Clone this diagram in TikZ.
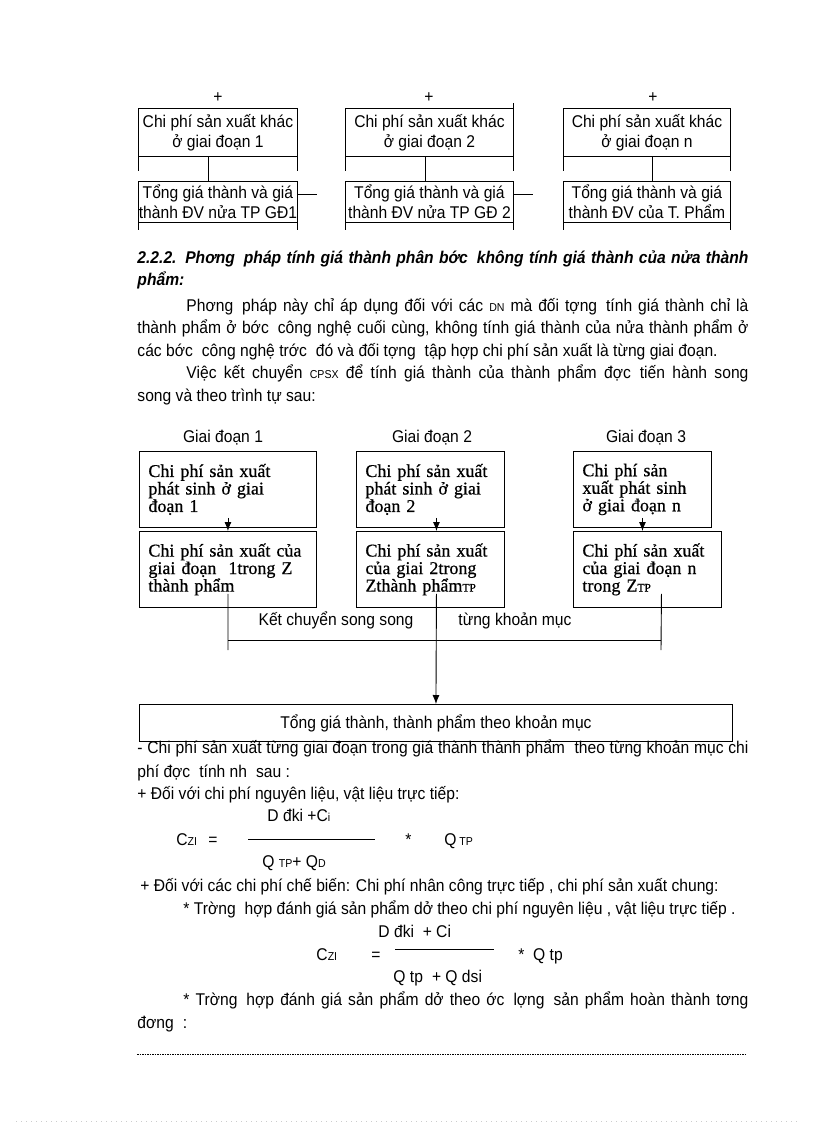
\documentclass[tikz,border=0pt]{standalone}
\usepackage{fontspec}
\setmainfont{Liberation Sans}[FakeStretch=0.92]
\newfontfamily\timesf{Liberation Serif}[FakeBold=0.6]
\usetikzlibrary{arrows.meta,positioning}

\newcommand{\gp}{\hspace*{9pt}}
\newcommand{\sm}[1]{{\fontsize{11.5}{11.5}\selectfont #1}}

\begin{document}
\begin{tikzpicture}[x=1pt, y=-1pt, line width=0.9pt,
    font=\fontsize{17}{20}\selectfont,
    every node/.style={inner sep=0pt},
    tip/.style={-{Latex[length=9pt,width=7pt]}},
    ln/.style={anchor=base west},
    cell/.style={minimum width=#1, minimum height=48pt, anchor=north west, align=center},
    tcell/.style={minimum width=#1, minimum height=41pt, anchor=north west, align=center},
    stage/.style={draw, text width=#1, anchor=north west, align=left, inner xsep=9pt,
        minimum height=76pt, font=\timesf\fontsize{18}{17.5}\selectfont}]
\useasboundingbox (0,0) rectangle (816,1123);

% ---- top: giai doan 1 .. n
\node (pl1) at (218,98) {+};
\node (pl2) at (429,98) {+};
\node (pl3) at (653,98) {+};
\node[cell=159pt] (k1) at (138,108) {Chi phí sản xuất khác\\ở giai đoạn 1};
\node[cell=168pt] (k2) at (345,108) {Chi phí sản xuất khác\\ở giai đoạn 2};
\node[cell=167pt] (k3) at (563,108) {Chi phí sản xuất khác\\ở giai đoạn n};
\node[tcell=159pt] (t1) at (138,181) {Tổng giá thành và giá\\thành ĐV nửa TP GĐ1};
\node[tcell=168pt] (t2) at (345,181) {Tổng giá thành và giá\\thành ĐV nửa TP GĐ 2};
\node[tcell=167pt] (t3) at (563,181) {Tổng giá thành và giá\\thành ĐV của T. Phẩm};
\foreach \b/\e in {k1/14,k2/14,k3/14,t1/7,t2/7,t3/7}{
  \draw (\b.north west) -- (\b.north east) (\b.south west) -- (\b.south east);
  \draw ([yshift=-\e pt]\b.south west) -- (\b.north west);
  \draw ([yshift=-\e pt]\b.south east) -- (\b.north east);
}
\draw (k2.north east) -- ++(0,-5);
\path ([xshift=-9.5pt]k1.south) edge ([xshift=-9.5pt]t1.north);
\path ([xshift=-4pt]k2.south) edge ([xshift=-4pt]t2.north);
\path ([xshift=5pt]k3.south) edge ([xshift=5pt]t3.north);
\coordinate (d1) at (317,194);
\coordinate (d2) at (533,194);
\draw (t1.east |- d1) -- (d1);
\draw (t2.east |- d2) -- (d2);

% ---- heading and text
\node[ln] (h1) at (137,263) {\bfseries\itshape\makebox[611pt][s]{2.2.2. Phơng\gp pháp tính giá thành phân bớc\gp không tính giá thành của nửa thành}};
\node[ln] (h2) at (137,285) {\bfseries\itshape phẩm:};
\node[ln] (r1) at (186,311) {\makebox[562pt][s]{Phơng\gp pháp này chỉ áp dụng đối với các \sm{DN} mà đối tợng\gp tính giá thành chỉ là}};
\node[ln] (r2) at (137,333) {\makebox[611pt][s]{thành phẩm ở bớc\gp công nghệ cuối cùng, không tính giá thành của nửa thành phẩm ở}};
\node[ln] (r3) at (137,356) {các bớc\gp công nghệ trớc\gp đó và đối tợng\gp tập hợp chi phí sản xuất là từng giai đoạn.};
\node[ln] (r4) at (186,378) {\makebox[562pt][s]{Việc kết chuyển \sm{CPSX} để tính giá thành của thành phẩm đợc\gp tiến hành song}};
\node[ln] (r5) at (137,401) {song và theo trình tự sau:};

% ---- giai doan 1, 2, 3
\node[anchor=base] (g1) at (223,442) {Giai đoạn 1};
\node[anchor=base] (g2) at (432,442) {Giai đoạn 2};
\node[anchor=base] (g3) at (646,442) {Giai đoạn 3};
\node[stage=159pt] (a1) at (139,451) {Chi phí sản xuất\\phát sinh ở giai\\đoạn 1};
\node[stage=130pt] (a2) at (356,451) {Chi phí sản xuất\\phát sinh ở giai\\đoạn 2};
\node[stage=120pt] (a3) at (573,451) {Chi phí sản\\xuất phát sinh\\ở giai đoạn n};
\node[stage=159pt] (b1) at (139,531) {Chi phí sản xuất của\\giai đoạn\ \ 1trong Z\\thành phẩm};
\node[stage=130pt] (b2) at (356,531) {Chi phí sản xuất\\của giai 2trong\\Zthành phẩm\sm{TP}};
\node[stage=130pt] (b3) at (573,531) {Chi phí sản xuất\\của giai đoạn n\\trong Z\sm{TP}};
\path ([yshift=10pt]a1.south) edge[tip] (b1.north);
\path ([xshift=6pt,yshift=10pt]a2.south) edge[tip] ([xshift=6pt]b2.north);
\path ([yshift=10pt]a3.south) edge[tip] ([xshift=-5pt]b3.north);

\node[anchor=base] (ks) at (336,625) {Kết chuyển song song};
\node[anchor=base] (tk) at (515,625) {từng khoản mục};
\coordinate (h1l) at (228,640);
\coordinate (h3r) at (661,640);
\coordinate (e1) at (228,650);
\coordinate (e3) at (661,650);
\draw ([yshift=14pt]b1.south) -- (e1);
\draw ([xshift=14pt,yshift=14pt]b3.south) -- (e3);
\draw (h1l) -- (h3r);
\node[draw, minimum width=593pt, minimum height=37pt, anchor=north west] (c) at (139,704) {Tổng giá thành, thành phẩm theo khoản mục};
\path ([xshift=6pt,yshift=14pt]b2.south) edge[tip] (c.north);

% ---- cach tinh
\node[ln] (q1) at (137,753) {\makebox[611pt][s]{- Chi phí sản xuất từng giai đoạn trong giá thành thành phẩm\ \ theo từng khoản mục chi}};
\node[ln] (q2) at (137,777) {phí đợc\gp tính nh\gp sau :};
\node[ln] (q3) at (137,799) {+ Đối với chi phí nguyên liệu, vật liệu trực tiếp:};

\node[ln] (f1n) at (267,821) {D đki +C\sm{i}};
\node[ln] (f1c) at (176,845) {C\sm{ZI}};
\node[ln] (f1e) at (208,845) {=};
\draw (248,839) -- (375,839);
\node[ln] (f1s) at (405,845) {*};
\node[ln] (f1q) at (444,845) {Q\,\sm{TP}};
\node[ln] (f1d) at (262,867) {Q \sm{TP}+ Q\sm{D}};

\node[ln] (q4) at (140,891) {+ Đối với các chi phí chế biến: Chi phí nhân công trực tiếp , chi phí sản xuất chung:};
\node[ln] (q5) at (183,914) {* Trờng\gp hợp đánh giá sản phẩm dở theo chi phí nguyên liệu , vật liệu trực tiếp .};

\node[ln] (f2n) at (378,937) {D đki\ \ + Ci};
\node[ln] (f2c) at (316,960) {C\sm{ZI}};
\node[ln] (f2e) at (371,960) {=};
\draw (395,949) -- (494,949);
\node[ln] (f2s) at (518,960) {*\ \ Q tp};
\node[ln] (f2d) at (393,982) {Q tp\gp+ Q dsi};

\node[ln] (q6) at (183,1005) {\makebox[565pt][s]{* Trờng\gp hợp đánh giá sản phẩm dở theo ớc\gp lợng\gp sản phẩm hoàn thành tơng}};
\node[ln] (q7) at (137,1028) {đơng\gp :};
\draw[line width=0.5pt, dash pattern=on 1.5pt off 1pt] (137,1054) -- (746,1054);
\draw[gray!40, line width=0.5pt, dash pattern=on 0.8pt off 4.2pt] (16,1121) -- (800,1121);
\end{tikzpicture}
\end{document}
